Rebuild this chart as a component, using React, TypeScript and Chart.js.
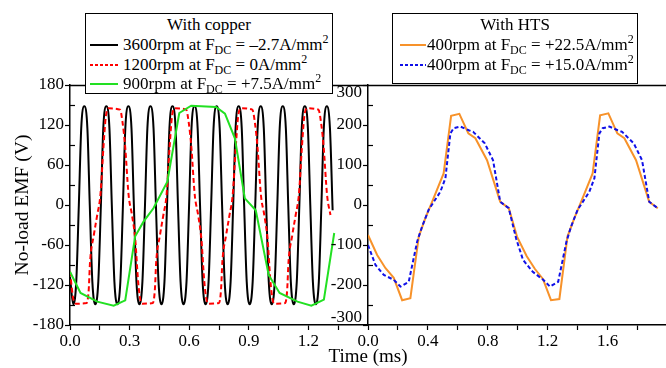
import React, { useEffect, useRef } from "react";
import { Chart, registerables } from "chart.js";
Chart.register(...registerables);

const FONT = '"Liberation Serif", "Times New Roman", serif';

// ---------- Left panel (with copper) ----------
const blackT = [0,
  0.0165, 0.0315, 0.0445, 0.0565, 0.072, 0.0875, 0.0995, 0.1125,
  0.1275, 0.1425, 0.1555, 0.1675, 0.183, 0.1985, 0.2105, 0.2235,
  0.2385, 0.2535, 0.2665, 0.2785, 0.294, 0.3095, 0.3215, 0.3345,
  0.3495, 0.3645, 0.3775, 0.3895, 0.405, 0.4205, 0.4325, 0.4455,
  0.4605, 0.4755, 0.4885, 0.5005, 0.516, 0.5315, 0.5435, 0.5565,
  0.5715, 0.5865, 0.5995, 0.6115, 0.627, 0.6425, 0.6545, 0.6675,
  0.6825, 0.6975, 0.7105, 0.7225, 0.738, 0.7535, 0.7655, 0.7785,
  0.7935, 0.8085, 0.8215, 0.8335, 0.849, 0.8645, 0.8765, 0.8895,
  0.9045, 0.9195, 0.9325, 0.9445, 0.96, 0.9755, 0.9875, 1.0005,
  1.0155, 1.0305, 1.0435, 1.0555, 1.071, 1.0865, 1.0985, 1.1115,
  1.1265, 1.1415, 1.1545, 1.1665, 1.182, 1.1975, 1.2095, 1.2225,
  1.2375, 1.2525, 1.2655, 1.2775, 1.293, 1.3085, 1.322];
const blackV = [-108,
  -149, -115, 0, 115, 148, 115, 0, -115,
  -149, -115, 0, 115, 148, 115, 0, -115,
  -149, -115, 0, 115, 148, 115, 0, -115,
  -149, -115, 0, 115, 148, 115, 0, -115,
  -149, -115, 0, 115, 148, 115, 0, -115,
  -149, -115, 0, 115, 148, 115, 0, -115,
  -149, -115, 0, 115, 148, 115, 0, -115,
  -149, -115, 0, 115, 148, 115, 0, -115,
  -149, -115, 0, 115, 148, 115, 0, -115,
  -149, -115, 0, 115, 148, 115, 0, -115,
  -149, -115, 0, 115, 148, 115, 0, -115,
  -149, -115, 0, 115, 148, 115, -8];

const redT = [0, 0.016, 0.03, 0.084, 0.094, 0.101, 0.12, 0.137, 0.153, 0.168, 0.18, 0.194, 0.252, 0.264, 0.277, 0.295, 0.312, 0.328, 0.343, 0.354,
  0.363, 0.417, 0.427, 0.434, 0.453, 0.47, 0.486, 0.501, 0.513, 0.527, 0.585, 0.597, 0.61, 0.628, 0.645, 0.661, 0.676, 0.687,
  0.696, 0.75, 0.76, 0.767, 0.786, 0.803, 0.819, 0.834, 0.846, 0.86, 0.918, 0.93, 0.943, 0.961, 0.978, 0.994, 1.009, 1.02,
  1.029, 1.083, 1.093, 1.1, 1.119, 1.136, 1.152, 1.167, 1.179, 1.193, 1.251, 1.263, 1.276, 1.294, 1.311];
const redV = [-100, -140, -148, -147, -128, -85, -45, -15, 15, 85, 132, 145, 143, 125, 90, 15, -15, -50, -115, -142,
  -148, -147, -128, -85, -45, -15, 15, 85, 132, 145, 143, 125, 90, 15, -15, -50, -115, -142,
  -148, -147, -128, -85, -45, -15, 15, 85, 132, 145, 143, 125, 90, 15, -15, -50, -115, -142,
  -148, -147, -128, -85, -45, -15, 15, 85, 132, 145, 143, 125, 90, 15, -15];

const greenT = [0, 0.053, 0.137, 0.22, 0.278, 0.328, 0.37, 0.42, 0.49, 0.55, 0.61, 0.735, 0.78, 0.83, 0.88, 0.935,
  1.0, 1.055, 1.145, 1.215, 1.278, 1.33];
const greenV = [-100, -132, -145, -151, -143, -47, -25, -5, 35, 138, 149, 147, 137, 100, 10, -8,
  -105, -132, -145, -151, -142, -42];

// ---------- Right panel (with HTS) ----------
const orangeT = [0, 0.061, 0.117, 0.172, 0.228, 0.283, 0.339, 0.383, 0.428, 0.505, 0.555, 0.61, 0.67, 0.717, 0.795,
  0.883, 0.94, 0.995, 1.06, 1.115, 1.168, 1.222, 1.278, 1.332, 1.378, 1.423, 1.5, 1.55, 1.605, 1.665, 1.712, 1.79,
  1.878, 1.935];
const orangeV = [-75, -125, -158, -182, -238, -233, -79, -33, 8, 79, 223, 228, 179, 167, 112,
  8, -8, -79, -128, -160, -185, -238, -235, -79, -33, 8, 79, 224, 229, 179, 167, 112,
  8, -8];

const blueT = [0, 0.05, 0.106, 0.172, 0.217, 0.272, 0.328, 0.361, 0.405, 0.483, 0.517, 0.55, 0.572, 0.617, 0.672,
  0.702, 0.78, 0.835, 0.883, 0.94, 0.99, 1.035, 1.1, 1.17, 1.215, 1.27, 1.325, 1.356, 1.4, 1.478, 1.512, 1.545,
  1.567, 1.612, 1.667, 1.697, 1.775, 1.83, 1.878, 1.935];
const blueV = [-100, -150, -175, -187, -204, -192, -92, -54, -12, 33, 67, 179, 192, 196, 187,
  183, 154, 112, 8, -8, -85, -137, -167, -187, -204, -192, -92, -54, -12, 33, 67, 179,
  192, 196, 187, 183, 154, 112, 8, -8];

// ---------- Axes ----------
const leftXTicks = [0, 0.15, 0.3, 0.45, 0.6, 0.75, 0.9, 1.05, 1.2, 1.35];
const leftXLabels = [0, 0.3, 0.6, 0.9, 1.2];
const leftYTicks = [-180, -120, -60, 0, 60, 120, 180];
const leftYMinor = [-150, -90, -30, 30, 90, 150];
const rightXTicks = [0, 0.2, 0.4, 0.6, 0.8, 1.0, 1.2, 1.4, 1.6, 1.8];
const rightXLabels = [0, 0.4, 0.8, 1.2, 1.6];
const rightYTicks = [-300, -200, -100, 0, 100, 200, 300];
const rightYMinor = [-250, -150, -50, 50, 150, 250];

const pts = (t: number[], v: number[]) => t.map((x, i) => ({ x, y: v[i] }));
const has = (arr: number[], v: number) => arr.some((a) => Math.abs(a - v) < 1e-6);

function framePlugin(minorY: number[], edge?: { value: number; text: string; dy: number }[]) {
  return {
    id: "frame",
    afterDraw(chart: any) {
      const { ctx, chartArea, scales } = chart;
      ctx.save();
      ctx.strokeStyle = "#000";
      ctx.lineWidth = 1.5;
      ctx.beginPath();
      ctx.moveTo(chartArea.left, chartArea.top + 0.5);
      ctx.lineTo(chartArea.right, chartArea.top + 0.5);
      ctx.stroke();
      ctx.lineWidth = 1.2;
      for (const v of minorY) {
        const y = Math.round(scales.y.getPixelForValue(v)) + 0.5;
        ctx.beginPath();
        ctx.moveTo(chartArea.left, y);
        ctx.lineTo(chartArea.left + 5, y);
        ctx.stroke();
      }
      if (edge) {
        ctx.fillStyle = "#000";
        ctx.font = `17px ${FONT}`;
        ctx.textAlign = "right";
        ctx.textBaseline = "middle";
        for (const e of edge) ctx.fillText(e.text, chartArea.left - 6, scales.y.getPixelForValue(e.value) + e.dy);
      }
      ctx.restore();
    },
  };
}

function buildConfig(p: {
  datasets: any[];
  xMax: number;
  xTicks: number[];
  xLabels: number[];
  yMin: number;
  yMax: number;
  yTicks: number[];
  yHidden: number[];
  yWidth: number;
  padRight: number;
  plugin: any;
}): any {
  const tickFont = { family: FONT, size: 17 };
  return {
    type: "line",
    data: { datasets: p.datasets },
    plugins: [p.plugin],
    options: {
      animation: false,
      responsive: false,
      events: [],
      layout: { padding: { top: 85, right: p.padRight, bottom: 13, left: 0 } },
      plugins: { legend: { display: false }, tooltip: { enabled: false } },
      elements: { point: { radius: 0 } },
      scales: {
        x: {
          type: "linear",
          min: 0,
          max: p.xMax,
          afterBuildTicks: (s: any) => {
            s.ticks = p.xTicks.map((v) => ({ value: v }));
          },
          afterFit: (s: any) => {
            s.height = 30;
          },
          ticks: {
            font: tickFont,
            color: "#000",
            padding: 1,
            maxRotation: 0,
            autoSkip: false,
            callback: (v: any) => (has(p.xLabels, Number(v)) ? Number(v).toFixed(1) : ""),
          },
          grid: { display: true, drawOnChartArea: false, drawTicks: true, tickLength: 5, tickColor: "#000", tickWidth: 1.2 },
          border: { display: true, color: "#000", width: 1.5 },
        },
        y: {
          type: "linear",
          min: p.yMin,
          max: p.yMax,
          afterBuildTicks: (s: any) => {
            s.ticks = p.yTicks.map((v) => ({ value: v }));
          },
          afterFit: (s: any) => {
            s.width = p.yWidth;
          },
          ticks: {
            font: tickFont,
            color: "#000",
            padding: 1,
            autoSkip: false,
            callback: (v: any) => (has(p.yHidden, Number(v)) ? "" : String(v)),
          },
          grid: { display: true, drawOnChartArea: false, drawTicks: true, tickLength: 5, tickColor: "#000", tickWidth: 1.2 },
          border: { display: true, color: "#000", width: 1.5 },
        },
      },
    },
  };
}

function ChartCanvas({ left, width, config }: { left: number; width: number; config: () => any }) {
  const ref = useRef<HTMLCanvasElement | null>(null);
  useEffect(() => {
    if (!ref.current) return;
    const c = new Chart(ref.current, config());
    return () => c.destroy();
  }, []);
  return (
    <canvas
      ref={ref}
      width={width}
      height={368}
      style={{ position: "absolute", left, top: 0, width, height: 368 }}
    />
  );
}

const subStyle: React.CSSProperties = { fontSize: 12, position: "relative", top: 4 };
const supStyle: React.CSSProperties = { fontSize: 12, position: "relative", top: -7 };

function Label({ rpm, val }: { rpm: string; val: string }) {
  return (
    <>
      {rpm}rpm at F<span style={subStyle}>DC</span> = {val}A/mm<span style={supStyle}>2</span>
    </>
  );
}

type Row = { color: string; dash?: string; rpm: string; val: string };

function LegendBox(props: {
  left: number;
  top: number;
  width: number;
  height: number;
  title: string;
  rows: Row[];
  lineX: number;
  lineW: number;
  textX: number;
}) {
  const { left, top, width, height, title, rows, lineX, lineW, textX } = props;
  return (
    <div
      style={{
        position: "absolute",
        left,
        top,
        width,
        height,
        boxSizing: "border-box",
        border: "1.5px solid #000",
        background: "#fff",
        fontFamily: FONT,
        fontSize: 17,
        color: "#000",
      }}
    >
      <div style={{ position: "absolute", left: 0, right: 0, top: 0, height: 22, lineHeight: "22px", textAlign: "center" }}>
        {title}
      </div>
      {rows.map((r, i) => {
        const cy = 31 + i * 19.5;
        return (
          <React.Fragment key={i}>
            <svg style={{ position: "absolute", left: lineX, top: cy - 3 }} width={lineW} height={6}>
              <line x1={0} y1={3} x2={lineW} y2={3} stroke={r.color} strokeWidth={2} strokeDasharray={r.dash} />
            </svg>
            <div
              style={{
                position: "absolute",
                left: textX,
                top: cy - 11,
                height: 22,
                lineHeight: "22px",
                whiteSpace: "nowrap",
              }}
            >
              <Label rpm={r.rpm} val={r.val} />
            </div>
          </React.Fragment>
        );
      })}
    </div>
  );
}

export default function App() {
  const leftConfig = () =>
    buildConfig({
      datasets: [
        { data: pts(blackT, blackV), borderColor: "#000000", borderWidth: 2, cubicInterpolationMode: "monotone", order: 2 },
        { data: pts(redT, redV), borderColor: "#ff0000", borderWidth: 2, borderDash: [5, 3], cubicInterpolationMode: "monotone", order: 1 },
        { data: pts(greenT, greenV), borderColor: "#22e022", borderWidth: 2, tension: 0, order: 0 },
      ],
      xMax: 1.5,
      xTicks: leftXTicks,
      xLabels: leftXLabels,
      yMin: -180,
      yMax: 180,
      yTicks: leftYTicks,
      yHidden: [],
      yWidth: 70,
      padRight: 4,
      plugin: framePlugin(leftYMinor),
    });
  const rightConfig = () =>
    buildConfig({
      datasets: [
        { data: pts(orangeT, orangeV), borderColor: "#f7922a", borderWidth: 2, tension: 0, order: 1 },
        { data: pts(blueT, blueV), borderColor: "#1010e8", borderWidth: 2, borderDash: [4, 2.5], tension: 0, order: 0 },
      ],
      xMax: 1.99,
      xTicks: rightXTicks,
      xLabels: rightXLabels,
      yMin: -300,
      yMax: 300,
      yTicks: rightYTicks,
      yHidden: [300, -300],
      yWidth: 50,
      padRight: 0,
      plugin: framePlugin(rightYMinor, [
        { value: 300, text: "300", dy: 8 },
        { value: -300, text: "-300", dy: -7 },
      ]),
    });
  return (
    <div style={{ position: "absolute", left: 0, top: 0, width: 666, height: 368, background: "#fff", overflow: "hidden" }}>
      <ChartCanvas left={0} width={372} config={leftConfig} />
      <ChartCanvas left={318} width={348} config={rightConfig} />
      <div
        style={{
          position: "absolute",
          left: 22 - 80,
          top: 205 - 11,
          width: 160,
          height: 22,
          lineHeight: "22px",
          textAlign: "center",
          transform: "rotate(-90deg)",
          fontFamily: FONT,
          fontSize: 19.5,
          whiteSpace: "nowrap",
        }}
      >
        No-load EMF (V)
      </div>
      <div
        style={{
          position: "absolute",
          left: 368 - 60,
          top: 356 - 11,
          width: 120,
          height: 22,
          lineHeight: "22px",
          textAlign: "center",
          fontFamily: FONT,
          fontSize: 19,
          whiteSpace: "nowrap",
        }}
      >
        Time (ms)
      </div>
      <LegendBox
        left={85}
        top={13}
        width={248}
        height={81}
        title="With copper"
        lineX={4}
        lineW={28}
        textX={37}
        rows={[
          { color: "#000000", rpm: "3600", val: "\u20132.7" },
          { color: "#ff0000", dash: "3 2", rpm: "1200", val: "0" },
          { color: "#22e022", rpm: "900", val: "+7.5" },
        ]}
      />
      <LegendBox
        left={392}
        top={13}
        width={246}
        height={71}
        title="With HTS"
        lineX={7}
        lineW={26}
        textX={34}
        rows={[
          { color: "#f7922a", rpm: "400", val: "+22.5" },
          { color: "#1010e8", dash: "3 2", rpm: "400", val: "+15.0" },
        ]}
      />
    </div>
  );
}
